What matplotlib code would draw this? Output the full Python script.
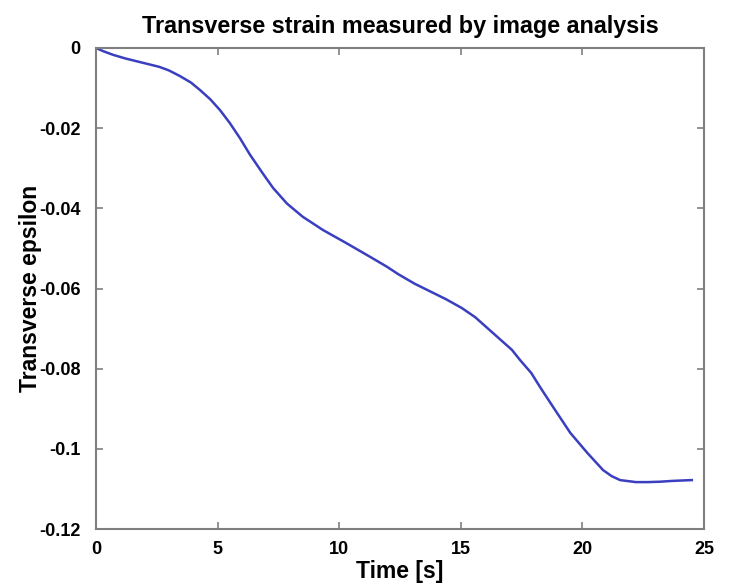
import matplotlib
matplotlib.use("Agg")
import matplotlib.pyplot as plt

plt.rcParams['font.family'] = ['Liberation Sans', 'DejaVu Sans']

# Data
time_s = [0.0, 0.3, 0.7, 1.2, 1.8, 2.6, 3.0, 3.45, 3.9, 4.28, 4.7, 5.1, 5.5, 5.92,
          6.33, 6.87, 7.28, 7.85, 8.5, 9.33, 10.3, 11.27, 11.97, 12.42,
          13.1, 13.8, 14.4, 15.05, 15.6, 16.1, 16.6, 17.1, 17.43, 17.9, 18.26,
          18.8, 19.5, 20.2, 20.85, 21.2, 21.55, 22.2, 22.7,
          23.2, 23.7, 24.1, 24.5]
epsilon = [0.0, -0.0008, -0.0017, -0.0026, -0.0035, -0.0047, -0.0056, -0.007,
           -0.0086, -0.0105, -0.0128, -0.0155, -0.0187, -0.0225, -0.0266,
           -0.0314, -0.0349, -0.0388, -0.0421, -0.0454, -0.0487, -0.0521,
           -0.0546, -0.0564, -0.0588, -0.0609, -0.0627, -0.0649, -0.0672,
           -0.0699, -0.0726, -0.0753, -0.0778, -0.0811, -0.0846, -0.0896,
           -0.096, -0.101, -0.1053, -0.1068, -0.1078, -0.1083, -0.1083,
           -0.1082, -0.108, -0.1079, -0.1078]

x_ticks = [0, 5, 10, 15, 20, 25]
y_ticks = [0, -0.02, -0.04, -0.06, -0.08, -0.1, -0.12]
y_tick_labels = ['0', '-0.02', '-0.04', '-0.06', '-0.08', '-0.1', '-0.12']

fig = plt.figure(figsize=(7.3, 5.84), dpi=100)
ax = fig.add_axes([96/730, 1 - 529/584, (704 - 96)/730, (529 - 48)/584])

ax.plot(time_s, epsilon, color='#3a3fbf', linewidth=1.8)

ax.set_xlim(0, 25)
ax.set_ylim(-0.12, 0)
ax.set_xticks(x_ticks)
ax.set_xticklabels([str(t) for t in x_ticks])
ax.set_yticks(y_ticks)
ax.set_yticklabels(y_tick_labels)

for s in ax.spines.values():
    s.set_color('#7f7f7f')
    s.set_linewidth(1.5)

ax.tick_params(direction='in', length=5, width=1.2, color='#7f7f7f',
               top=True, right=True, labelsize=13)
ax.tick_params(axis='y', pad=11)
ax.tick_params(axis='x', pad=9)
for lab in ax.get_xticklabels() + ax.get_yticklabels():
    lab.set_fontweight('bold')

ax.set_title('Transverse strain measured by image analysis', fontsize=16.8,
             fontweight='bold', pad=11)
ax.set_xlabel('Time [s]', fontsize=16.5, fontweight='bold', labelpad=1)
ax.set_ylabel('Transverse epsilon', fontsize=16.5, fontweight='bold', labelpad=-2)

fig.savefig('out.png', dpi=100)
